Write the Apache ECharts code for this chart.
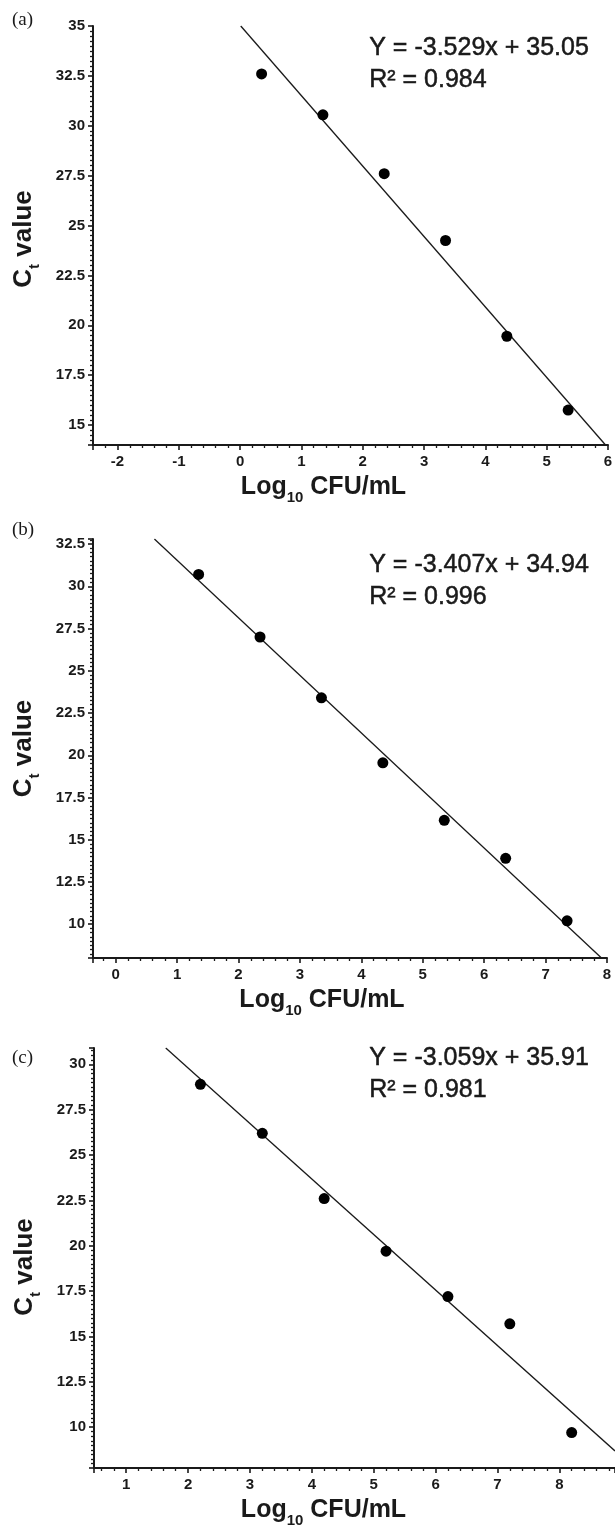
<!DOCTYPE html>
<html><head><meta charset="utf-8">
<script src="https://cdn.jsdelivr.net/npm/echarts@6/dist/echarts.min.js"></script>
<style>html,body{margin:0;padding:0;background:#fff}#c{width:615px;height:1532px}</style>
</head><body><div id="c"></div>
<script>
// ---- data ----
const panelLabels = ['(a)', '(b)', '(c)'];
const aX = [0.35, 1.35, 2.35, 3.35, 4.35, 5.35];
const aY = [32.6, 30.55, 27.6, 24.25, 19.45, 15.75];
const bX = [1.35, 2.35, 3.35, 4.35, 5.35, 6.35, 7.35];
const bY = [30.7, 27.0, 23.4, 19.55, 16.15, 13.9, 10.2];
const cX = [2.2, 3.2, 4.2, 5.2, 6.2, 7.2, 8.2];
const cY = [28.9, 26.2, 22.6, 19.7, 17.2, 15.7, 9.7];
// fitted line end points (as drawn)
const aFitX = [0.01, 5.96];
const aFitY = [35.0, 14.0];
const bFitX = [0.63, 7.91];
const bFitY = [32.8, 8.0];
const cFitX = [1.64, 8.9];
const cFitY = [30.9, 8.69];
// regression text
const slopes = ['-3.529', '-3.407', '-3.059'];
const intercepts = ['35.05', '34.94', '35.91'];
const r2s = ['0.984', '0.996', '0.981'];
// axis ranges
const xMins = [-2.4, -0.37, 0.48];
const xMaxs = [6, 8, 8.9];
const yMins = [14, 8, 7.75];
const yMaxs = [35, 32.8, 30.9];

const FONT = '"Liberation Sans", Arial, Helvetica, sans-serif';
const INK = '#1a1a1a';

const grids = [
  {left: 93, top: 26, width: 515, height: 419},
  {left: 93, top: 539, width: 514, height: 419},
  {left: 94, top: 1048, width: 521, height: 420}
].map(g => Object.assign(g, {containLabel: false, outerBoundsMode: 'none'}));

const xPad = [54, 56, 62];
const yPad = [7, 0, 18];

function isNice(v, step) { return Math.abs(v / step - Math.round(v / step)) < 1e-9; }

const xAxes = [0, 1, 2].map(i => ({
  type: 'value', gridIndex: i, min: xMins[i], max: xMaxs[i],
  minInterval: 1, maxInterval: 1,
  axisLine: {show: true, onZero: false, lineStyle: {color: INK, width: 2}},
  axisTick: {show: true, inside: false, length: 5, lineStyle: {color: INK, width: 1.6}},
  minorTick: {show: true, splitNumber: 5, length: 3, lineStyle: {color: INK, width: 1.3}},
  splitLine: {show: false},
  axisLabel: {margin: 9, color: INK, fontSize: 15, fontWeight: 'bold', fontFamily: FONT,
    showMinLabel: isNice(xMins[i], 1), showMaxLabel: isNice(xMaxs[i], 1)},
  name: '{b|Log}{s|10}{b| CFU/mL}',
  nameLocation: 'middle', nameGap: 24,
  nameTextStyle: {padding: [0, xPad[i], 0, 0], rich: {
    b: {fontSize: 25, fontFamily: FONT, fontWeight: 'bold', color: INK, lineHeight: 36},
    s: {fontSize: 15, fontFamily: FONT, fontWeight: 'bold', color: INK, lineHeight: 15, verticalAlign: 'bottom'}
  }}
}));

const yAxes = [0, 1, 2].map(i => ({
  type: 'value', gridIndex: i, min: yMins[i], max: yMaxs[i],
  minInterval: 2.5, maxInterval: 2.5,
  axisLine: {show: true, onZero: false, lineStyle: {color: INK, width: 2}},
  axisTick: {show: true, inside: false, length: 5, lineStyle: {color: INK, width: 1.6}},
  minorTick: {show: true, splitNumber: 10, length: 3, lineStyle: {color: INK, width: 1.3}},
  splitLine: {show: false},
  axisLabel: {margin: 8, color: INK, fontSize: 15, fontWeight: 'bold', fontFamily: FONT,
    showMinLabel: isNice(yMins[i], 2.5), showMaxLabel: isNice(yMaxs[i], 2.5)},
  name: '{b|C}{s|t}{b| value}',
  nameLocation: 'middle', nameRotate: 90, nameGap: 51,
  nameTextStyle: {padding: [0, yPad[i], 0, 0], rich: {
    b: {fontSize: 26, fontFamily: FONT, fontWeight: 'bold', color: INK, lineHeight: 36},
    s: {fontSize: 15, fontFamily: FONT, fontWeight: 'bold', color: INK, lineHeight: 15, verticalAlign: 'bottom'}
  }}
}));

const pts = [[aX, aY], [bX, bY], [cX, cY]];
const fits = [[aFitX, aFitY], [bFitX, bFitY], [cFitX, cFitY]];
const series = [];
[0, 1, 2].forEach(i => {
  series.push({
    type: 'line', xAxisIndex: i, yAxisIndex: i, symbol: 'none', silent: true, z: 2,
    data: fits[i][0].map((x, k) => [x, fits[i][1][k]]),
    lineStyle: {color: INK, width: 1.3}
  });
  series.push({
    type: 'scatter', xAxisIndex: i, yAxisIndex: i, z: 3,
    data: pts[i][0].map((x, k) => [x, pts[i][1][k]]),
    symbol: 'circle', symbolSize: 11, itemStyle: {color: '#000', opacity: 1}
  });
});

const labelTops = [11, 521, 1049];
const eqTops = [32, 549, 1042];
const graphic = [];
[0, 1, 2].forEach(i => {
  graphic.push({type: 'text', left: 12, top: labelTops[i], silent: true,
    style: {text: panelLabels[i], fontSize: 19, fontFamily: '"Liberation Serif", "Times New Roman", serif', fill: INK}});
  graphic.push({type: 'text', left: 369, top: eqTops[i], silent: true,
    style: {text: 'Y = ' + slopes[i] + 'x + ' + intercepts[i] + '\nR\u00B2 = ' + r2s[i],
      fontSize: 25, fontFamily: FONT, fill: INK, lineHeight: 32,
      stroke: INK, lineWidth: 0.5}});
});

const chart = echarts.init(document.getElementById('c'), null, {renderer: 'canvas'});
chart.setOption({
  animation: false,
  backgroundColor: '#fff',
  grid: grids,
  xAxis: xAxes,
  yAxis: yAxes,
  series: series,
  graphic: graphic
});
</script>
</body></html>
